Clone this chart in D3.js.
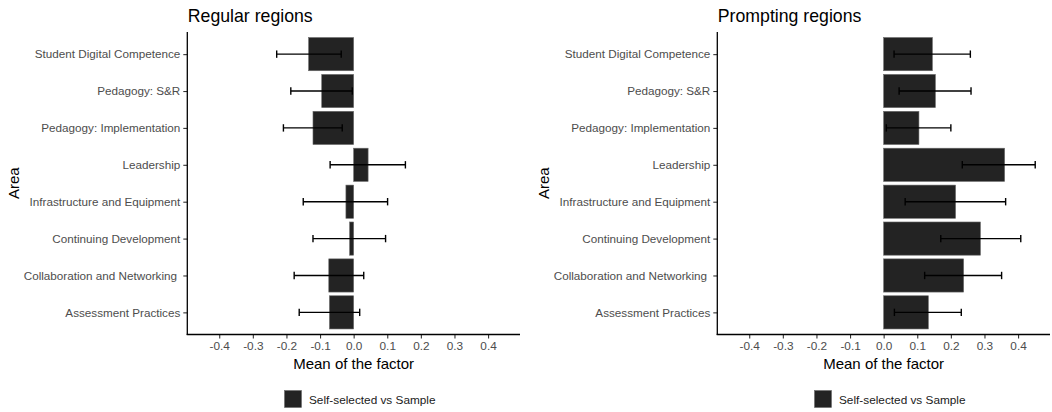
<!DOCTYPE html>
<html>
<head>
<meta charset="utf-8">
<script src="https://cdn.jsdelivr.net/npm/d3@7"></script>
<style>
  html, body { margin: 0; padding: 0; background: #fff; }
  svg { display: block; font-family: "Liberation Sans", Arial, Helvetica, sans-serif; }
  text { white-space: pre; }
</style>
</head>
<body>
<svg id="chart" width="1052" height="412"></svg>
<script>
// Areas, listed top to bottom
const areas = [
  "Student Digital Competence",
  "Pedagogy: S&R",
  "Pedagogy: Implementation",
  "Leadership",
  "Infrastructure and Equipment",
  "Continuing Development",
  "Collaboration and Networking ",
  "Assessment Practices"
];

// Regular regions: mean of the factor with interval bounds
const regularMean = [-0.134, -0.095, -0.121, 0.043, -0.023, -0.012, -0.074, -0.072];
const regularLow  = [-0.229, -0.187, -0.209, -0.070, -0.150, -0.121, -0.177, -0.162];
const regularHigh = [-0.037, -0.004, -0.034, 0.154, 0.101, 0.095, 0.030, 0.018];

// Prompting regions
const promptMean = [0.145, 0.154, 0.105, 0.360, 0.214, 0.288, 0.238, 0.133];
const promptLow  = [0.031, 0.046, 0.008, 0.234, 0.064, 0.170, 0.122, 0.032];
const promptHigh = [0.258, 0.260, 0.200, 0.451, 0.363, 0.408, 0.351, 0.231];

// Axis ticks
const xTicks = [-0.4, -0.3, -0.2, -0.1, 0.0, 0.1, 0.2, 0.3, 0.4];
const xTickLabels = ["-0.4", "-0.3", "-0.2", "-0.1", "0.0", "0.1", "0.2", "0.3", "0.4"];
const xDomain = [-0.495, 0.495];

const panelTitles = ["Regular regions", "Prompting regions"];
const legendLabel = "Self-selected vs Sample";

const svg = d3.select("#chart");
const BAR = "#232323";
const GREY = "#4d4d4d";
const FONT = "'Liberation Sans', Arial, sans-serif";

const panels = [
  { title: panelTitles[0], mean: regularMean, low: regularLow, high: regularHigh, off: 0 },
  { title: panelTitles[1], mean: promptMean, low: promptLow, high: promptHigh, off: 530 }
];

panels.forEach(p => {
  const left = 187.3 + p.off, right = 520 + p.off;
  const top = 32, bottom = 334.5;
  const g = svg.append("g");

  const x = d3.scaleLinear().domain(xDomain).range([left, right]);
  const y = d3.scalePoint().domain(areas).range([top, bottom]).padding(0.6);
  const step = y.step();
  const barH = step * 0.9;
  const capH = step * 0.2;

  const rows = areas.map((a, i) => ({ area: a, mean: p.mean[i], low: p.low[i], high: p.high[i] }));

  // bars
  g.selectAll("rect.bar").data(rows).join("rect")
    .attr("class", "bar")
    .attr("x", d => x(Math.min(0, d.mean)))
    .attr("width", d => Math.abs(x(d.mean) - x(0)))
    .attr("y", d => y(d.area) - barH / 2)
    .attr("height", barH)
    .attr("fill", BAR)
    .attr("stroke", "#6a6a6a")
    .attr("stroke-width", 0.6);

  // interval whiskers
  const eb = g.selectAll("g.eb").data(rows).join("g").attr("class", "eb")
    .attr("stroke", "#000").attr("stroke-width", 1.4).attr("fill", "none");
  eb.append("line")
    .attr("x1", d => x(d.low)).attr("x2", d => x(d.high))
    .attr("y1", d => y(d.area)).attr("y2", d => y(d.area));
  eb.append("line")
    .attr("x1", d => x(d.low)).attr("x2", d => x(d.low))
    .attr("y1", d => y(d.area) - capH / 2).attr("y2", d => y(d.area) + capH / 2);
  eb.append("line")
    .attr("x1", d => x(d.high)).attr("x2", d => x(d.high))
    .attr("y1", d => y(d.area) - capH / 2).attr("y2", d => y(d.area) + capH / 2);

  // x axis
  const xAxis = d3.axisBottom(x).tickValues(xTicks)
    .tickFormat((d, i) => xTickLabels[i]).tickSize(4).tickPadding(3).tickSizeOuter(0);
  const gx = g.append("g").attr("transform", `translate(0,${bottom})`).call(xAxis);
  gx.select(".domain").remove();
  gx.selectAll(".tick line").attr("stroke", "#333").attr("stroke-width", 1.1);
  gx.selectAll(".tick text").attr("fill", GREY).style("font-size", "11.8px")
    .style("font-family", FONT);

  // y axis
  const yAxis = d3.axisLeft(y).tickSize(4).tickPadding(3).tickSizeOuter(0);
  const gy = g.append("g").attr("transform", `translate(${left},0)`).call(yAxis);
  gy.select(".domain").remove();
  gy.selectAll(".tick line").attr("stroke", "#333").attr("stroke-width", 1.1);
  gy.selectAll(".tick text").attr("fill", GREY).style("font-size", "11.7px")
    .style("font-family", FONT);

  // axis lines
  g.append("line").attr("x1", left).attr("x2", left).attr("y1", top).attr("y2", bottom + 0.6)
    .attr("stroke", "#000").attr("stroke-width", 1.3);
  g.append("line").attr("x1", left - 0.6).attr("x2", right).attr("y1", bottom).attr("y2", bottom)
    .attr("stroke", "#000").attr("stroke-width", 1.3);

  // titles
  g.append("text").attr("x", left + 0.5).attr("y", 22)
    .style("font-size", "17.7px").attr("fill", "#000").text(p.title);
  g.append("text").attr("x", (left + right) / 2).attr("y", 369)
    .attr("text-anchor", "middle").style("font-size", "15px").attr("fill", "#000")
    .text("Mean of the factor");
  g.append("text")
    .attr("transform", `translate(${19 + p.off},${(top + bottom) / 2}) rotate(-90)`)
    .attr("text-anchor", "middle").style("font-size", "15px").attr("fill", "#000")
    .text("Area");

  // legend
  const lg = g.append("g").attr("transform", `translate(${284.5 + p.off},390.5)`);
  lg.append("rect").attr("width", 17).attr("height", 17)
    .attr("fill", BAR).attr("stroke", "#6a6a6a").attr("stroke-width", 0.6);
  lg.append("text").attr("x", 24.5).attr("y", 13.5)
    .style("font-size", "11.8px").attr("fill", "#1a1a1a").text(legendLabel);
});
</script>
</body>
</html>
